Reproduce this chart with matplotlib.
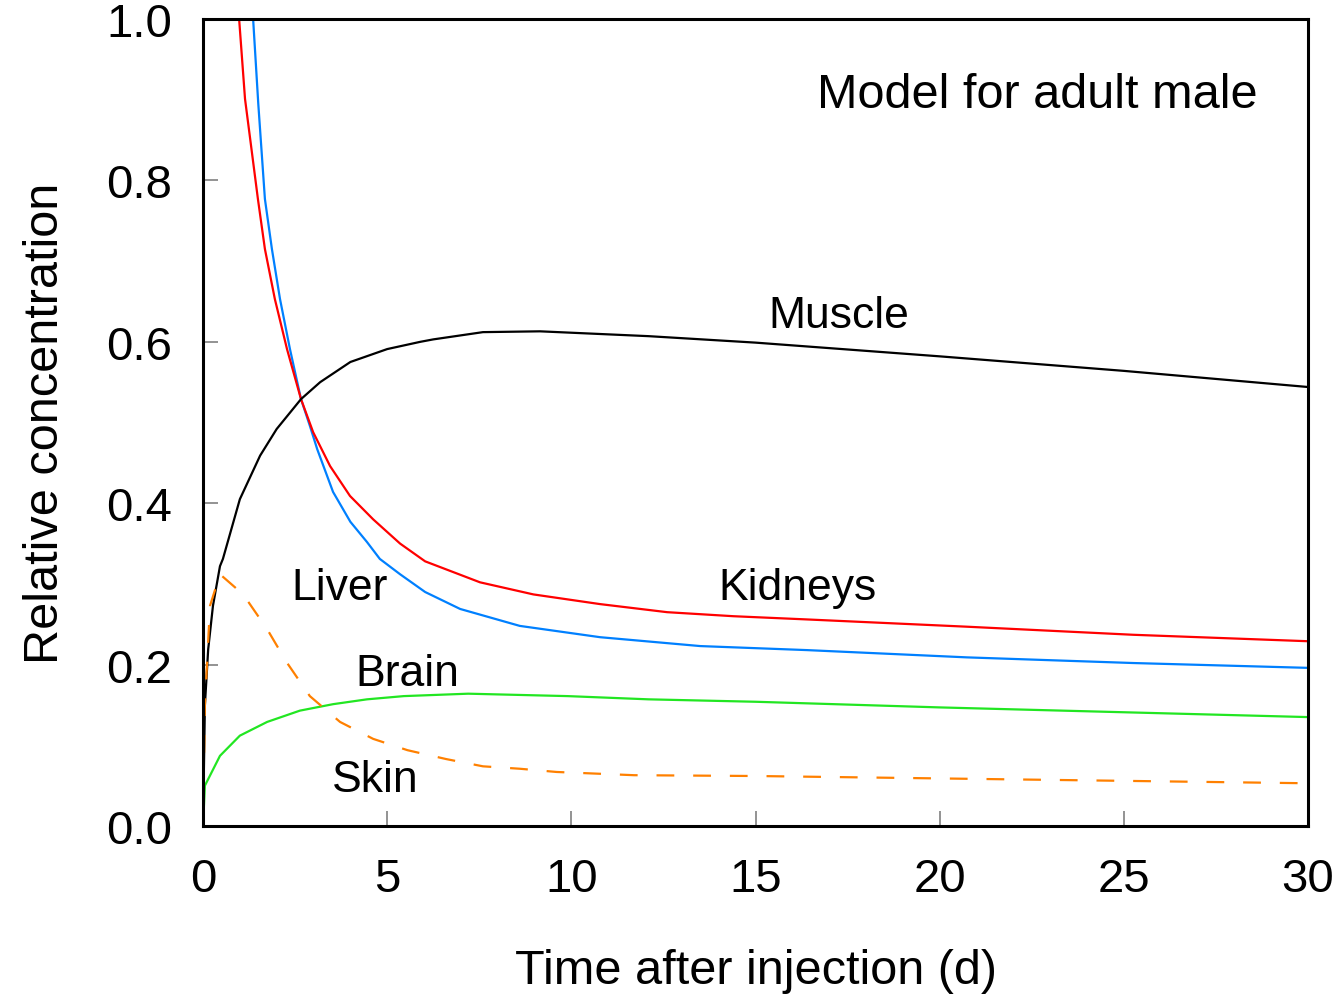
import numpy as np
import matplotlib.pyplot as plt

plt.rcParams['font.family'] = ['Liberation Sans', 'DejaVu Sans']

# time points (d) and curves
t_muscle = [0, 0.05, 0.14, 0.27, 0.46, 0.54, 1.0, 1.55, 2.0, 2.66, 3.18, 4.0, 5.0, 5.9, 6.25, 7.6,
            9.15, 12.1, 15, 20, 25, 30]
muscle = [0, 0.149, 0.219, 0.273, 0.322, 0.331, 0.405, 0.459, 0.492, 0.529, 0.55, 0.575, 0.591, 0.6,
          0.603, 0.612, 0.613, 0.607, 0.599, 0.582, 0.564, 0.544]

t_liver = [0, 0.0, 0.02, 1.2, 1.36, 1.5, 1.68, 1.87, 2.09, 2.36, 2.66, 2.9, 3.1, 3.53, 4.0, 4.45,
           4.8, 5.35, 6.03, 6.98, 8.6, 10.78, 13.5, 16.4, 20.74, 25.25, 30]
liver = [0, 0.25, 3.0, 1.12, 1.0, 0.895, 0.777, 0.715, 0.653, 0.591, 0.529, 0.496, 0.467, 0.414,
         0.377, 0.352, 0.331, 0.312, 0.29, 0.269, 0.248, 0.234, 0.223, 0.218, 0.209, 0.202, 0.196]

t_kidney = [0.85, 0.98, 1.14, 1.49, 1.68, 1.95, 2.28, 2.66, 2.99, 3.45, 3.99, 4.62, 5.35, 6.03, 7.52,
            8.97, 10.78, 12.6, 14.4, 16.4, 20.74, 25.25, 30]
kidney = [1.12, 1.0, 0.901, 0.777, 0.715, 0.653, 0.591, 0.529, 0.488, 0.446, 0.409, 0.38, 0.35, 0.328,
          0.302, 0.287, 0.275, 0.265, 0.26, 0.256, 0.247, 0.237, 0.229]

t_brain = [0, 0.05, 0.46, 1.0, 1.74, 2.63, 3.53, 4.45, 5.45, 7.2, 9.9, 12.1, 15, 20, 25, 30]
brain = [0, 0.05, 0.087, 0.112, 0.129, 0.143, 0.151, 0.157, 0.161, 0.164, 0.161, 0.157, 0.154, 0.147,
         0.141, 0.135]

t_skin = [0, 0.05, 0.19, 0.46, 1.09, 1.74, 2.27, 2.9, 3.72, 4.62, 5.55, 6.6, 7.6, 8.6, 9.6, 11.7, 15,
          20, 25, 30]
skin = [0, 0.15, 0.273, 0.312, 0.287, 0.244, 0.203, 0.161, 0.129, 0.108, 0.094, 0.083, 0.074, 0.071,
        0.067, 0.063, 0.062, 0.059, 0.056, 0.053]

fig = plt.figure(figsize=(13.41, 9.95), dpi=100)
ax = fig.add_axes([0.1514, 0.1688, 0.824, 0.8111])

ax.plot(t_liver, liver, color='#0080ff', lw=1.6)
ax.plot(t_kidney, kidney, color='#ff0000', lw=1.6)
ax.plot(t_muscle, muscle, color='black', lw=1.6)
ax.plot(t_brain, brain, color='#22e622', lw=1.6)
ax.plot(t_skin, skin, color='#ff8000', lw=1.6, dashes=(8, 8.5))

ax.set_xlim(0, 30)
ax.set_ylim(0, 1.0)
ax.set_xticks([0, 5, 10, 15, 20, 25, 30])
ax.set_yticks([0.0, 0.2, 0.4, 0.6, 0.8, 1.0])
ax.set_yticklabels(['0.0', '0.2', '0.4', '0.6', '0.8', '1.0'])
ax.tick_params(direction='in', length=11, width=1.2, color='gray', labelsize=34, pad=22)
for s in ax.spines.values():
    s.set_linewidth(2.2)

ax.set_xlabel('Time after injection (d)', fontsize=35, labelpad=34)
ax.set_ylabel('Relative concentration', fontsize=35, labelpad=28)

ax.text(0.954, 0.906, 'Model for adult male', transform=ax.transAxes, fontsize=35, ha='right', va='center')
ax.text(17.27, 0.632, 'Muscle', fontsize=32, ha='center', va='center')
ax.text(3.72, 0.296, 'Liver', fontsize=32, ha='center', va='center')
ax.text(16.13, 0.296, 'Kidneys', fontsize=32, ha='center', va='center')
ax.text(5.54, 0.189, 'Brain', fontsize=32, ha='center', va='center')
ax.text(4.67, 0.058, 'Skin', fontsize=32, ha='center', va='center')

fig.savefig('out.png', dpi=100)
